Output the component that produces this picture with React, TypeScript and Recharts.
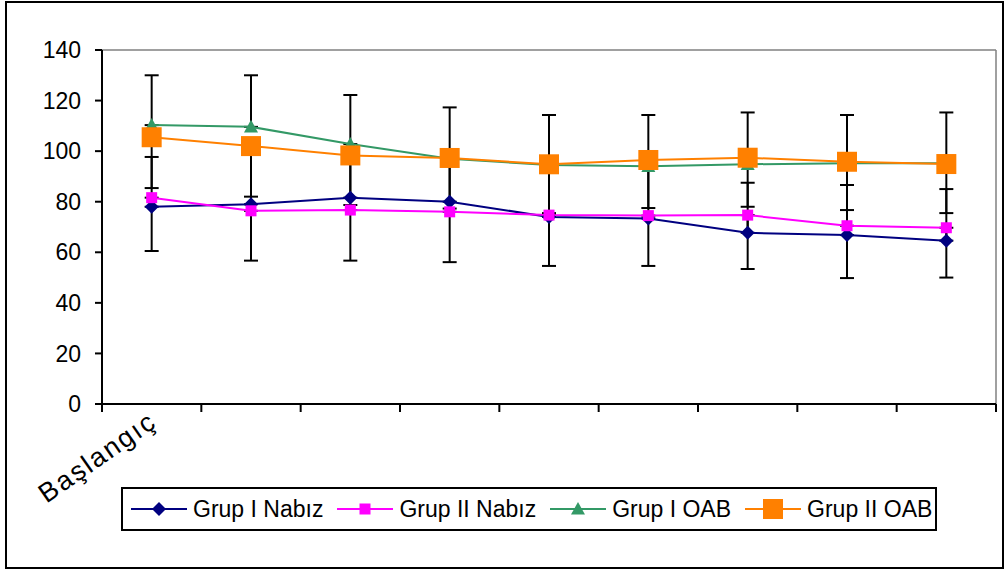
import React from "react";
import { ErrorBar, Legend, Line, LineChart, ReferenceLine, XAxis, YAxis } from "recharts";

// values
const categories = ["Başlangıç", "", "", "", "", "", "", "", ""];
const grupINabiz = [78, 79, 81.6, 80, 74, 73.4, 67.7, 66.8, 64.6];
const grupIINabiz = [81.6, 76.4, 76.7, 76, 74.7, 74.5, 74.7, 70.5, 69.7];
const grupIOAB = [110.3, 109.6, 102.8, 97, 94.5, 94, 94.8, 95.2, 95.2];
const grupIIOAB = [105.5, 102, 98.3, 97.3, 94.8, 96.5, 97.4, 95.8, 94.9];

// one-sided error bars: group I plus, group II minus
const nabizIPlus = [19.7, 20, 20, 20, 20, 20, 19.8, 19.8, 20.4];
const nabizIIMinus = [21.1, 19.7, 20, 19.9, 20.1, 19.9, 21.3, 20.7, 19.7];
const oabIPlus = [19.7, 20.4, 19.4, 20.3, 19.8, 20.3, 20.5, 19.1, 20.1];
const oabIIMinus = [20.1, 20, 19.6, 20, 19.3, 19, 19.4, 19.1, 19.4];

const yTicks = [0, 20, 40, 60, 80, 100, 120, 140];
const xTicks = categories
	.flatMap((_, i) => [i + 0.5, i + 1])
	.concat(categories.length + 0.5);

const data = categories.map((label, i) => ({
	idx: i + 1,
	label,
	n1: grupINabiz[i],
	n2: grupIINabiz[i],
	o1: grupIOAB[i],
	o2: grupIIOAB[i],
	n1Err: [0, nabizIPlus[i]],
	n2Err: [nabizIIMinus[i], 0],
	o1Err: [0, oabIPlus[i]],
	o2Err: [oabIIMinus[i], 0],
}));

const FONT = "'Liberation Sans', Arial, sans-serif";

type Shape = "diamond" | "square" | "triangle";

const series: { key: string; err: string; name: string; color: string; shape: Shape; size: number }[] = [
	{ key: "n1", err: "n1Err", name: "Grup I Nabız", color: "#000080", shape: "diamond", size: 14 },
	{ key: "n2", err: "n2Err", name: "Grup II Nabız", color: "#FF00FF", shape: "square", size: 11 },
	{ key: "o1", err: "o1Err", name: "Grup I OAB", color: "#339966", shape: "triangle", size: 14 },
	{ key: "o2", err: "o2Err", name: "Grup II OAB", color: "#FF8000", shape: "square", size: 20 },
];

const Marker = ({ cx, cy, shape, size, color }: { cx: number; cy: number; shape: Shape; size: number; color: string }) => {
	const h = size / 2;
	if (shape === "diamond") {
		return <polygon points={`${cx},${cy - h} ${cx + h},${cy} ${cx},${cy + h} ${cx - h},${cy}`} fill={color} />;
	}
	if (shape === "triangle") {
		return <polygon points={`${cx},${cy - h} ${cx + h},${cy + h * 0.8} ${cx - h},${cy + h * 0.8}`} fill={color} />;
	}
	return <rect x={cx - h} y={cy - h} width={size} height={size} fill={color} />;
};

const XTick = (props: any) => {
	const { x, y, payload } = props;
	const v = payload.value;
	if (Number.isInteger(v)) {
		const label = categories[v - 1];
		if (!label) return <g />;
		const tx = x - 4;
		const ty = y - 2;
		return (
			<text
				x={tx}
				y={ty}
				textAnchor="end"
				dy="0.7em"
				fontSize={27}
				fontFamily={FONT}
				letterSpacing={2}
				fill="#000"
				transform={`rotate(-35, ${tx}, ${ty})`}
			>
				{label}
			</text>
		);
	}
	return <line x1={x} x2={x} y1={y - 8} y2={y} stroke="#000" strokeWidth={2} />;
};

const renderLegend = () => (
	<div
		style={{
			border: "2px solid #000",
			height: 44,
			boxSizing: "border-box",
			display: "flex",
			alignItems: "center",
			paddingLeft: 8,
			background: "#fff",
			fontFamily: FONT,
			fontSize: 23,
			color: "#000",
		}}
	>
		{series.map((s) => (
			<div key={s.key} style={{ display: "flex", alignItems: "center", marginRight: 14 }}>
				<svg width={56} height={24}>
					<line x1={0} x2={56} y1={12} y2={12} stroke={s.color} strokeWidth={2} />
					<Marker cx={28} cy={12} shape={s.shape} size={s.size} color={s.color} />
				</svg>
				<span style={{ marginLeft: 6, whiteSpace: "nowrap" }}>{s.name}</span>
			</div>
		))}
	</div>
);

export default function App() {
	return (
		<div style={{ position: "absolute", left: 0, top: 0, width: 1005, height: 571, background: "#fff" }}>
			<div
				style={{
					position: "absolute",
					left: 5,
					top: 1,
					width: 999,
					height: 568,
					border: "2px solid #000",
					boxSizing: "border-box",
				}}
			/>
			<div style={{ position: "absolute", left: 0, top: 0 }}>
				<LineChart width={1005} height={571} data={data} margin={{ top: 50, right: 9, left: 0, bottom: 0 }}>
					<ReferenceLine y={140} stroke="#808080" strokeWidth={1.5} />
					<ReferenceLine x={9.5} stroke="#808080" strokeWidth={1.5} />
					<XAxis
						type="number"
						dataKey="idx"
						domain={[0.5, 9.5]}
						ticks={xTicks}
						interval={0}
						height={167}
						tickLine={false}
						tickSize={8}
						tickMargin={0}
						axisLine={{ stroke: "#000", strokeWidth: 2 }}
						tick={<XTick />}
					/>
					<YAxis
						type="number"
						domain={[0, 140]}
						ticks={yTicks}
						interval={0}
						width={102}
						tickSize={7}
						tickMargin={14}
						axisLine={{ stroke: "#000", strokeWidth: 2 }}
						tickLine={{ stroke: "#000", strokeWidth: 2 }}
						tick={{ fill: "#000", fontSize: 23, fontFamily: FONT }}
					/>
					{series.map((s) => (
						<Line
							key={s.key}
							dataKey={s.key}
							name={s.name}
							stroke={s.color}
							strokeWidth={2}
							type="linear"
							isAnimationActive={false}
							dot={(p: any) => (
								<Marker key={`${s.key}-${p.index}`} cx={p.cx} cy={p.cy} shape={s.shape} size={s.size} color={s.color} />
							)}
							activeDot={false}
						>
							<ErrorBar dataKey={s.err} width={7} stroke="#000" strokeWidth={2} direction="y" isAnimationActive={false} />
						</Line>
					))}
					<Legend
						layout="horizontal"
						verticalAlign="middle"
						align="center"
						content={renderLegend}
						wrapperStyle={{ left: 121, top: 487, width: 816, height: 44 }}
					/>
				</LineChart>
			</div>
		</div>
	);
}
